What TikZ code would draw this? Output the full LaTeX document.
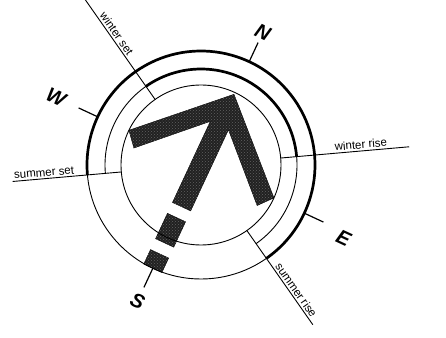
\documentclass[tikz,border=0pt]{standalone}
\usepackage{fontspec}
\setmainfont{Liberation Sans}
\usetikzlibrary{patterns}
\begin{document}
\begin{tikzpicture}[x=1pt,y=1pt,
  thinc/.style={line width=0.9pt},
  thickc/.style={line width=2.7pt},
  ray/.style={line width=0.9pt},
  tickline/.style={line width=1.2pt},
  cardinal/.style={font=\fontsize{20}{20}\selectfont\bfseries\itshape, rotate=-25, inner sep=0pt},
  lbl/.style={font=\fontsize{11.5}{12}\selectfont, inner sep=2pt, anchor=south},
  arrowfill/.style={fill=black!87, draw=black, line width=0.4pt},
  texture/.style={pattern=crosshatch dots, pattern color=black!62}
]
\useasboundingbox (0,0) rectangle (446,337);
\coordinate (C) at (201,172);

% arrow (local frame: N up)
\begin{scope}[shift={(C)}, rotate=-25]
  \path[arrowfill] (0,78) -- (-80,1) -- (-68,-13) -- (-10,43.5) -- (-10,-46)
     -- (10,-46) -- (10,43.5) -- (68,-13) -- (80,1) -- cycle;
  \path[arrowfill] (-10,-58) rectangle (10,-86);
  \path[arrowfill] (-10,-98) rectangle (10,-114);
  \path[texture] (0,78) -- (-80,1) -- (-68,-13) -- (-10,43.5) -- (-10,-46)
     -- (10,-46) -- (10,43.5) -- (68,-13) -- (80,1) -- cycle;
  \path[texture] (-10,-58) rectangle (10,-86);
  \path[texture] (-10,-98) rectangle (10,-114);
\end{scope}

% circles
\draw[thinc] (C) circle[radius=80];
\draw[thinc] (C) circle[radius=114];
\draw[thickc] ([shift={(-55:114)}]C) arc[start angle=-55, end angle=185, radius=114];
\draw[thinc] ([shift={(-55:96)}]C) arc[start angle=-55, end angle=185, radius=96];
\draw[thickc] ([shift={(5:96)}]C) arc[start angle=5, end angle=125, radius=96];

% rays
\coordinate (wr1) at ([shift={(5:80)}]C);
\coordinate (wr2) at ([shift={(5:209)}]C);
\coordinate (ws1) at ([shift={(125:80)}]C);
\coordinate (ws2) at ([shift={(125:215)}]C);
\coordinate (ss1) at ([shift={(185:80)}]C);
\coordinate (ss2) at ([shift={(185:189)}]C);
\coordinate (sr1) at ([shift={(-55:80)}]C);
\coordinate (sr2) at ([shift={(-55:195)}]C);
\begin{scope}
\clip (0,0) rectangle (446,337);
\draw[ray] (wr1) -- (wr2);
\draw[ray] (ws1) -- (ws2);
\draw[ray] (ss1) -- (ss2);
\draw[ray] (sr1) -- (sr2);
\end{scope}

\node[lbl, rotate=5] (twr) at ([shift={(5:161)}]C) {winter rise};
\node[lbl, rotate=-55] (tws) at ([shift={(125:156)}]C) {winter set};
\node[lbl, rotate=5] (tss) at ([shift={(185:157)}]C) {summer set};
\node[lbl, rotate=-55] (tsr) at ([shift={(-55:157)}]C) {summer rise};

% ticks
\coordinate (tn1) at ([shift={(65:114)}]C);  \coordinate (tn2) at ([shift={(65:135)}]C);
\coordinate (tw1) at ([shift={(155:114)}]C); \coordinate (tw2) at ([shift={(155:135)}]C);
\coordinate (te1) at ([shift={(-25:114)}]C); \coordinate (te2) at ([shift={(-25:135)}]C);
\coordinate (ts1) at ([shift={(245:114)}]C); \coordinate (ts2) at ([shift={(245:135)}]C);
\draw[tickline] (tn1) -- (tn2);
\draw[tickline] (tw1) -- (tw2);
\draw[tickline] (te1) -- (te2);
\draw[tickline] (ts1) -- (ts2);

\node[cardinal] (N) at ([shift={(65:146)}]C) {N};
\node[cardinal] (W) at ([shift={(155:160)}]C) {W};
\node[cardinal] (E) at ([shift={(-27:160)}]C) {E};
\node[cardinal] (S) at ([shift={(245:150)}]C) {S};
\end{tikzpicture}
\end{document}
